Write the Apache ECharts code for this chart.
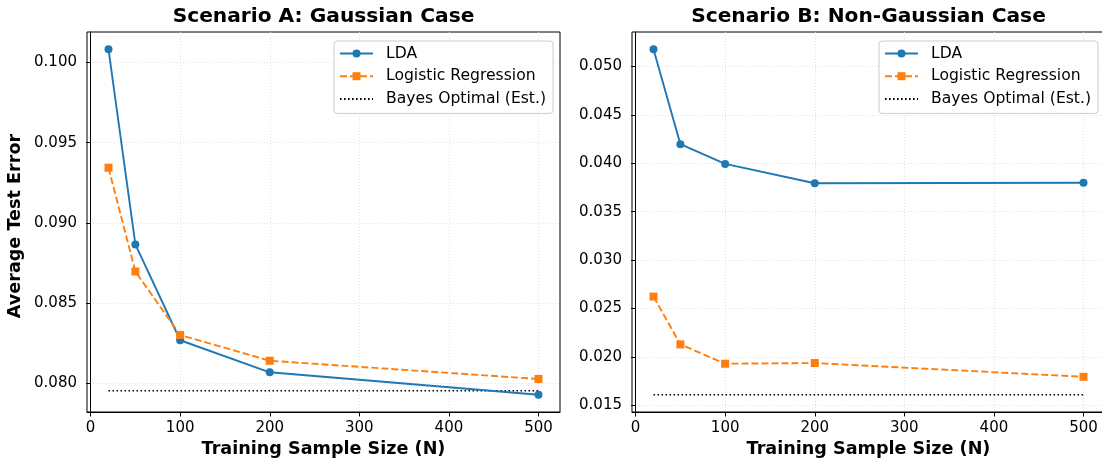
<!DOCTYPE html>
<html>
<head>
<meta charset="utf-8">
<style>html,body{margin:0;padding:0;background:#fff;}#c{width:1102px;height:459px;}</style>
<script src="https://cdn.jsdelivr.net/npm/echarts@6/dist/echarts.min.js"></script>
</head>
<body>
<div id="c"></div>
<script>
const N = [20, 50, 100, 200, 500];
const ldaA = [0.10083, 0.08865, 0.08267, 0.08067, 0.07927];
const lrA = [0.09344, 0.08696, 0.08300, 0.08139, 0.08025];
const bayesA = 0.07952;
const ldaB = [0.05176, 0.04197, 0.03993, 0.03793, 0.03799];
const lrB = [0.02624, 0.02130, 0.01931, 0.01938, 0.01796];
const bayesB = 0.01611;
const xTicks = [0, 100, 200, 300, 400, 500];
const yTicksA = [0.080, 0.085, 0.090, 0.095, 0.100];
const yTicksB = [0.015, 0.020, 0.025, 0.030, 0.035, 0.040, 0.045, 0.050];
const titles = ['Scenario A: Gaussian Case', 'Scenario B: Non-Gaussian Case'];
const names = ['LDA', 'Logistic Regression', 'Bayes Optimal (Est.)'];

const FONT = 'DejaVu Sans';
function lim(arrs) {
  const all = [].concat(...arrs);
  const mn = Math.min(...all), mx = Math.max(...all);
  const m = (mx - mn) * 0.05;
  return [mn - m, mx + m];
}
const xmn = Math.min(...N), xmx = Math.max(...N), xm = (xmx - xmn) * 0.05;
const limA = lim([ldaA, lrA, [bayesA]]);
const limB = lim([ldaB, lrB, [bayesB]]);

const gridW = 473, gridH = 380, gridTop = 32;
const lefts = [87, 632];

function xAxis(i) {
  return {
    type: 'value', gridIndex: i, min: xmn - xm, max: xmx + xm,
    name: 'Training Sample Size (N)', nameLocation: 'middle', nameGap: 26,
    nameTextStyle: {fontFamily: FONT, fontSize: 17.6, fontWeight: 'bold', color: '#000'},
    axisLine: {show: true, onZero: false, lineStyle: {color: '#000', width: 1}},
    axisTick: {show: true, length: 4.5, customValues: xTicks, lineStyle: {color: '#000', width: 1}},
    axisLabel: {customValues: xTicks, fontFamily: FONT, fontSize: 15, color: '#000', margin: 9},
    splitLine: {show: true, lineStyle: {color: '#d9d9d9', type: [1, 2], width: 0.8}}
  };
}
function yAxis(i, l, ticks, name) {
  return {
    type: 'value', gridIndex: i, min: l[0], max: l[1],
    name: name, nameLocation: 'middle', nameGap: 63,
    nameTextStyle: {fontFamily: FONT, fontSize: 17.6, fontWeight: 'bold', color: '#000', padding: [0, 8, 0, 0]},
    axisLine: {show: true, lineStyle: {color: '#000', width: 1}},
    axisTick: {show: true, length: 4.5, customValues: ticks, lineStyle: {color: '#000', width: 1}},
    axisLabel: {customValues: ticks, fontFamily: FONT, fontSize: 15, color: '#000', margin: 10,
      formatter: v => v.toFixed(3)},
    splitLine: {show: true, lineStyle: {color: '#d9d9d9', type: [1, 2], width: 0.8}}
  };
}
function series(i, lda, lr, bayes) {
  return [
    {name: names[0], type: 'line', xAxisIndex: i, yAxisIndex: i,
     data: N.map((n, k) => [n, lda[k]]), symbol: 'circle', symbolSize: 8,
     lineStyle: {color: '#1f77b4', width: 1.9}, itemStyle: {color: '#1f77b4'}, z: 3},
    {name: names[1], type: 'line', xAxisIndex: i, yAxisIndex: i,
     data: N.map((n, k) => [n, lr[k]]), symbol: 'rect', symbolSize: 8,
     lineStyle: {color: '#ff7f0e', width: 1.9, type: [7, 3]}, itemStyle: {color: '#ff7f0e'}, z: 3},
    {name: names[2], type: 'line', xAxisIndex: i, yAxisIndex: i,
     data: N.map(n => [n, bayes]), symbol: 'none',
     lineStyle: {color: '#000', width: 1.6, type: [1.6, 2.4]}, itemStyle: {color: '#000'}, z: 2}
  ];
}
function legend(i, left) {
  return {
    left: left, top: 41, orient: 'vertical',
    backgroundColor: 'rgba(255,255,255,0.85)', borderColor: '#cccccc', borderWidth: 1, borderRadius: 3,
    padding: [4, 7, 6, 5], itemGap: 5.7, itemWidth: 33, itemHeight: 10,
    textStyle: {fontFamily: FONT, fontSize: 15.6, color: '#000', lineHeight: 17, padding: [0, 0, 0, 8]},
    data: [{name: names[0]}, {name: names[1]}, {name: names[2], itemStyle: {opacity: 0}}],
    selectedMode: false
  };
}

const chart = echarts.init(document.getElementById('c'), null, {renderer: 'canvas'});
chart.setOption({
  backgroundColor: '#fff',
  animation: false,
  title: titles.map((t, i) => ({
    text: t, left: lefts[i] + gridW / 2, top: 7, textAlign: 'center', padding: 0,
    textStyle: {fontFamily: FONT, fontSize: 20.2, fontWeight: 'bold', color: '#000'}
  })),
  grid: lefts.map(l => ({left: l, top: gridTop, width: gridW, height: gridH, show: true,
    containLabel: false, outerBoundsMode: 'none',
    borderColor: '#000', borderWidth: 1, backgroundColor: 'transparent'})),
  legend: [legend(0, 334), legend(1, 879)],
  xAxis: [xAxis(0), xAxis(1)],
  yAxis: [yAxis(0, limA, yTicksA, 'Average Test Error'), yAxis(1, limB, yTicksB, '')],
  series: [...series(0, ldaA, lrA, bayesA), ...series(1, ldaB, lrB, bayesB)]
});
</script>
</body>
</html>
